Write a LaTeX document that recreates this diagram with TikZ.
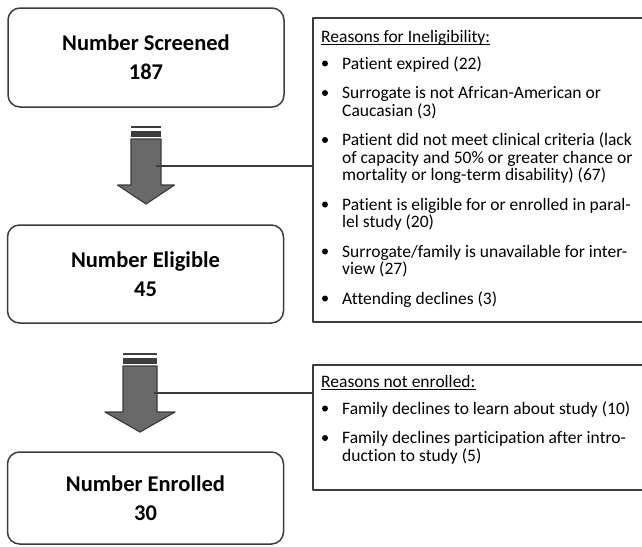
\documentclass[tikz,border=0pt]{standalone}
\usepackage{fontspec}
\setmainfont{Carlito}[Ligatures={NoCommon}]
\definecolor{line_gray}{RGB}{60,60,60}
\definecolor{arrow_gray}{RGB}{105,105,105}

\begin{document}
\begin{tikzpicture}[x=1pt,y=-1pt,line join=round]
    \tikzstyle{stage}=[draw=line_gray, line width=1.5pt, rounded corners=12pt, minimum width=276pt, align=center, text=black, font=\fontsize{22.5}{29}\selectfont\bfseries]
    \tikzstyle{reasons}=[draw=line_gray, line width=1.5pt, minimum width=332pt]
    \tikzstyle{head}=[anchor=base west, inner sep=0pt, font=\fontsize{17.5}{17.5}\selectfont]
    \tikzstyle{item}=[anchor=base west, inner sep=0pt, text width=298pt, align=left, font=\fontsize{17.5}{17.5}\selectfont,
      execute at begin node={\spaceskip=0pt\xspaceskip=0pt\relax}]
    \tikzstyle{dot}=[circle, fill=black, inner sep=0pt, minimum size=6pt]
    \tikzstyle{link}=[draw=line_gray, line width=1.2pt]

    \useasboundingbox (0,0) rectangle (642,546);
    \clip (0,0) rectangle (642,546);

    \node[stage, minimum height=99pt] (scr) at (146,57.5) {Number Screened\\187};
    \node[stage, minimum height=98pt] (eli) at (145.5,274) {Number Eligible\\45};
    \node[stage, minimum height=92pt] (enr) at (145.5,498) {Number Enrolled\\30};

    \foreach \cx/\ty/\bw/\hw/\hb/\tip in {146/127/15/28.5/185/204, 140/354/17/35/412/432} {
      \draw[line_gray, line width=1.5pt] (\cx-\bw,\ty) -- (\cx+\bw,\ty);
      \fill[line_gray] (\cx-\bw,\ty+4) rectangle (\cx+\bw,\ty+9.5);
      \draw[fill=arrow_gray, draw=line_gray, line width=1.2pt] (\cx-\bw,\ty+12) -- (\cx+\bw,\ty+12) -- (\cx+\bw,\hb)
        -- (\cx+\hw,\hb) -- (\cx,\tip) -- (\cx-\hw,\hb) -- (\cx-\bw,\hb) -- cycle;
    }

    \node[reasons, minimum height=304pt] (inel) at (479,170) {};
    \node[reasons, minimum height=125pt] (notenr) at (479,427.5) {};

    \coordinate (c1) at (156,166);
    \coordinate (c2) at (154,393);
    \draw[link] (c1) -- (c1 -| inel.west);
    \draw[link] (c2) -- (c2 -| notenr.west);

    \node[head] (h1) at (321,42) {Reasons for Ineligibility:};
    \draw[line width=0.9pt] ([yshift=-2.5pt]h1.base west) -- ([yshift=-2.5pt]h1.base east);
    \node[item] (i1) at (342,69) {Patient expired (22)};
    \node[item] (i2) at (342,98.5) {Surrogate is not African-American or\\Caucasian (3)};
    \node[item] (i3) at (342,145.5) {Patient did not meet clinical criteria (lack\\of capacity and 50\% or greater chance or\\mortality or long-term disability) (67)};
    \node[item] (i4) at (342,210) {Patient is eligible for or enrolled in paral-\\lel study (20)};
    \node[item] (i5) at (342,257) {Surrogate/family is unavailable for inter-\\view (27)};
    \node[item] (i6) at (342,304) {Attending declines (3)};
    \foreach \y [count=\k] in {69,98.5,145.5,210,257,304}
      \node[dot] (d\k) at (325,\y-5.5) {};

    \node[head] (h2) at (321,387) {Reasons not enrolled:};
    \draw[line width=0.9pt] ([yshift=-2.5pt]h2.base west) -- ([yshift=-2.5pt]h2.base east);
    \node[item] (j1) at (342,414) {Family declines to learn about study (10)};
    \node[item] (j2) at (342,443.5) {Family declines participation after intro-\\duction to study (5)};
    \foreach \y [count=\k] in {414,443.5}
      \node[dot] (e\k) at (325,\y-5.5) {};
\end{tikzpicture}
\end{document}
